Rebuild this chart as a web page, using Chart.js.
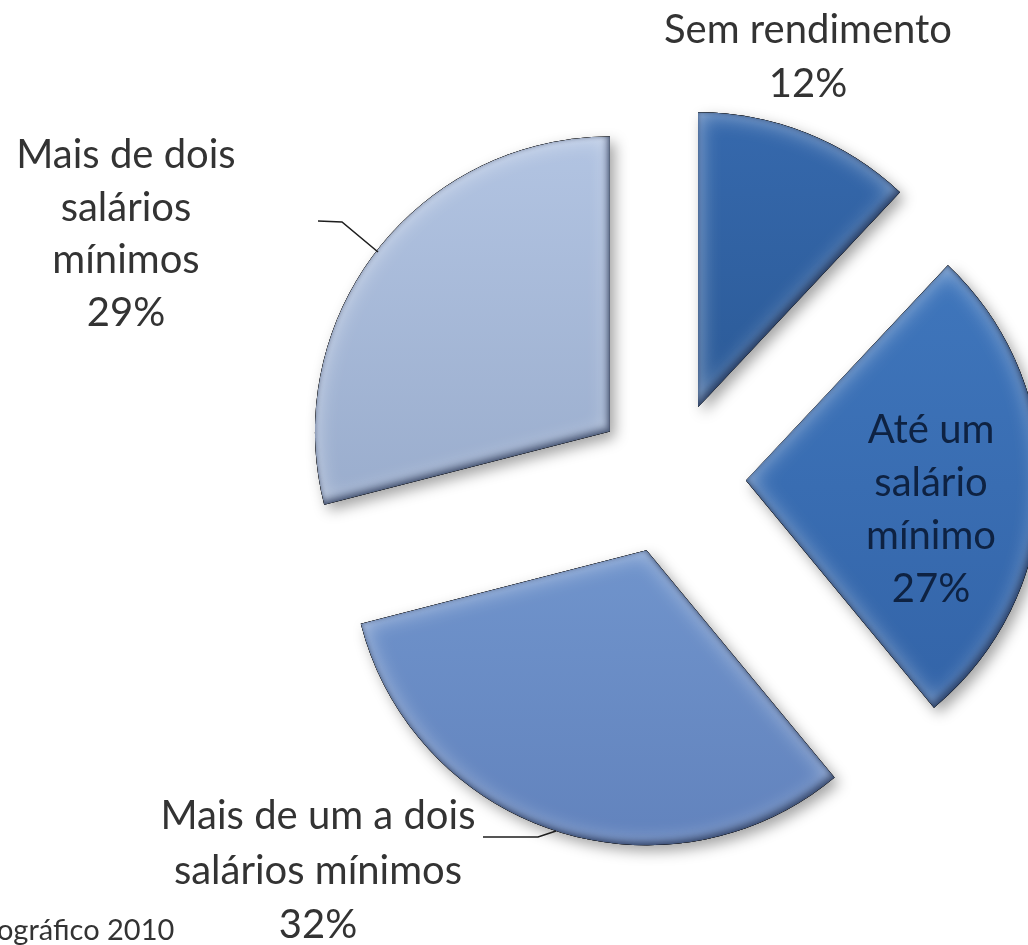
<!DOCTYPE html>
<html>
<head>
<meta charset="utf-8">
<script src="https://cdn.jsdelivr.net/npm/chart.js@4/dist/chart.umd.min.js"></script>
<style>
  html, body { margin: 0; padding: 0; background: #fff; }
  canvas { display: block; }
</style>
</head>
<body>
<canvas id="renda" width="1028" height="945"></canvas>
<script>
const categories = ['Sem rendimento', 'Até um salário mínimo', 'Mais de um a dois salários mínimos', 'Mais de dois salários mínimos'];
const percents = [12, 27, 32, 29];

// how the names wrap in the picture
const labelLines = [
  ['Sem rendimento'],
  ['Até um', 'salário', 'mínimo'],
  ['Mais de um a dois', 'salários mínimos'],
  ['Mais de dois', 'salários', 'mínimos']
];

const sliceTop = ['#3669ad', '#3f76bc', '#7094cc', '#b2c4e2'];
const sliceBottom = ['#2b5a97', '#3364a8', '#6283bd', '#9aadcd'];
const EXPLODE = 76;
const FONT = 'Lato, "Noto Sans", sans-serif';

// label anchors: centre x, first baseline, line step, colour
const labelPos = [
  { x: 808, y: 43, step: 54, color: '#333333' },
  { x: 931, y: 443, step: 53, color: '#0e2242' },
  { x: 318, y: 829, step: 54.5, color: '#333333' },
  { x: 126, y: 168, step: 52.5, color: '#333333' }
];
const leaders = [
  [[483, 837], [538, 837], [556, 831]],
  [[318, 221], [342, 222], [378, 252]]
];

function slicePath(ctx, a) {
  ctx.beginPath();
  ctx.moveTo(a.x, a.y);
  ctx.arc(a.x, a.y, a.outerRadius, a.startAngle, a.endAngle);
  ctx.closePath();
}

// shadow of everything outside the slice, seen only inside it
function innerShade(ctx, a, color, dx, dy, blur) {
  ctx.save();
  slicePath(ctx, a);
  ctx.clip();
  ctx.beginPath();
  ctx.rect(-3000, -3000, 7000, 7000);
  ctx.moveTo(a.x, a.y);
  ctx.arc(a.x, a.y, a.outerRadius, a.startAngle, a.endAngle);
  ctx.closePath();
  ctx.shadowColor = color;
  ctx.shadowOffsetX = dx;
  ctx.shadowOffsetY = dy;
  ctx.shadowBlur = blur;
  ctx.fillStyle = '#000';
  ctx.fill('evenodd');
  ctx.restore();
}

function sliceFill(context) {
  const chart = context.chart;
  const area = chart.chartArea;
  const i = context.dataIndex;
  if (!area || context.type !== 'data') return sliceTop[i];
  const total = percents.reduce((s, v) => s + v, 0);
  const before = percents.slice(0, i).reduce((s, v) => s + v, 0);
  const start = -Math.PI / 2 + 2 * Math.PI * before / total;
  const end = start + 2 * Math.PI * percents[i] / total;
  const cy = (area.top + area.bottom) / 2;
  const r = Math.min(area.width, area.height) / 2;
  let lo = cy, hi = cy;
  for (let k = 0; k <= 24; k++) {
    const py = cy + Math.sin(start + (end - start) * k / 24) * r;
    lo = Math.min(lo, py);
    hi = Math.max(hi, py);
  }
  const g = chart.ctx.createLinearGradient(0, lo, 0, hi);
  g.addColorStop(0, sliceTop[i]);
  g.addColorStop(1, sliceBottom[i]);
  return g;
}

const explodedPie = {
  id: 'explodedPie',
  beforeDatasetDraw(chart, args) {
    const ctx = chart.ctx;
    args.meta.data.forEach((arc) => {
      const a = arc.getProps(['x', 'y', 'startAngle', 'endAngle', 'outerRadius']);
      const mid = (a.startAngle + a.endAngle) / 2;
      ctx.save();
      ctx.translate(Math.cos(mid) * EXPLODE, Math.sin(mid) * EXPLODE);

      ctx.save();
      ctx.shadowColor = 'rgba(0,0,0,0.36)';
      ctx.shadowBlur = 14;
      ctx.shadowOffsetX = 5;
      ctx.shadowOffsetY = 6;
      arc.draw(ctx);
      ctx.restore();

      // bevel: light band on the rim, darker lower-right edges
      innerShade(ctx, a, 'rgba(255,255,255,0.55)', 0, 0, 22);
      innerShade(ctx, a, 'rgba(5,20,55,0.55)', -3, -4, 7);
      innerShade(ctx, a, 'rgba(5,20,55,0.35)', 0, 0, 4);

      ctx.restore();
    });
    return false;
  },
  afterDraw(chart) {
    const ctx = chart.ctx;
    ctx.save();
    ctx.textAlign = 'center';
    ctx.textBaseline = 'alphabetic';
    ctx.font = '40px ' + FONT;
    labelLines.forEach((lines, i) => {
      const p = labelPos[i];
      ctx.fillStyle = p.color;
      lines.concat([percents[i] + '%']).forEach((t, k) => {
        ctx.fillText(t, p.x, p.y + k * p.step);
      });
    });

    ctx.strokeStyle = '#1e1e1e';
    ctx.lineWidth = 1.6;
    leaders.forEach(pts => {
      ctx.beginPath();
      pts.forEach(([x, y], k) => k ? ctx.lineTo(x, y) : ctx.moveTo(x, y));
      ctx.stroke();
    });

    ctx.textAlign = 'left';
    ctx.fillStyle = '#333333';
    ctx.font = '29px ' + FONT;
    ctx.fillText('ográfico 2010', -3, 940);
    ctx.restore();
  }
};

new Chart(document.getElementById('renda'), {
  type: 'pie',
  data: {
    labels: categories,
    datasets: [{
      data: percents,
      backgroundColor: sliceFill,
      borderWidth: 0,
      hoverOffset: 0
    }]
  },
  options: {
    responsive: false,
    animation: false,
    events: [],
    layout: { padding: { left: 375, top: 183, right: 63, bottom: 172 } },
    plugins: {
      legend: { display: false },
      tooltip: { enabled: false }
    }
  },
  plugins: [explodedPie]
});
</script>
</body>
</html>
